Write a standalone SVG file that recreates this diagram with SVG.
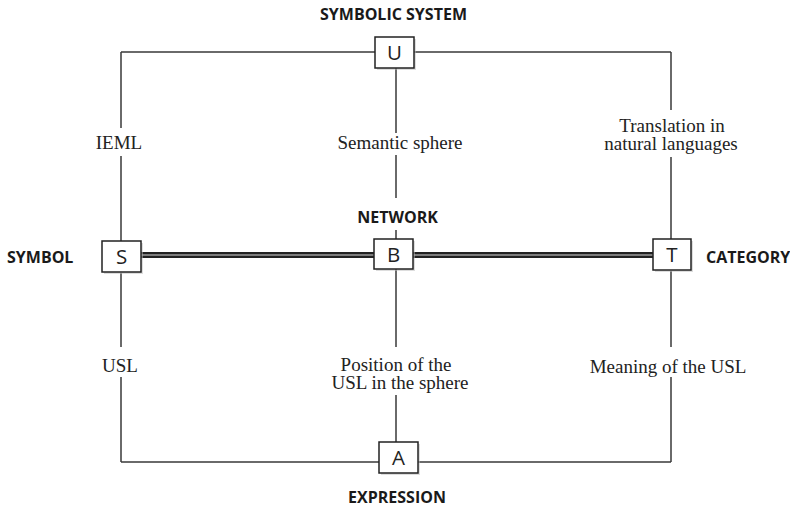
<svg xmlns="http://www.w3.org/2000/svg" width="790" height="510" viewBox="0 0 790 510">
<style>
.ln{stroke:#3a3a3a;stroke-width:1.5;fill:none}
.dbl{stroke:#222;stroke-width:6;fill:none}
.dblc{stroke:#9a9a9a;stroke-width:1.3;fill:none}
.box{fill:#fff;stroke:#222;stroke-width:1.5}
.sh{fill:#bbb;opacity:0.5}
.bl{font-family:"Open Sans","Liberation Sans",sans-serif;font-size:20.5px;fill:#222;text-anchor:middle}
.hd{font-family:"Open Sans",sans-serif;font-weight:700;font-size:16px;fill:#1a1a1a}
.lb{font-family:"Liberation Serif",serif;font-size:19px;fill:#222;text-anchor:middle}
</style>
<rect width="790" height="510" fill="#fff"/>
<g id="connectors">
<path class="ln" d="M121,52H375M414,52H671M121,462H379M418,462H671"/>
<path class="ln" d="M121,52V128M121,156V241M121,273V347M121,377V462"/>
<path class="ln" d="M671,52V110M671,157V239M671,271V347M671,377V462"/>
<path class="ln" d="M396,68V133M396,155V198M396,230V239M396,269V347M396,395V442"/>
<path class="dbl" d="M141,255H374M413,255H653"/>
<path class="dblc" d="M141,255H374M413,255H653"/>
</g>
<g id="U"><rect class="sh" x="377" y="39" width="39" height="31"/><rect class="box" x="375" y="37" width="39" height="31"/><text class="bl" x="394.5" y="60">U</text></g>
<g id="S"><rect class="sh" x="104" y="243" width="39" height="31"/><rect class="box" x="102" y="241" width="39" height="31"/><text class="bl" x="121.5" y="264">S</text></g>
<g id="B"><rect class="sh" x="376" y="241" width="39" height="30"/><rect class="box" x="374" y="239" width="39" height="30"/><text class="bl" x="393.5" y="261.5">B</text></g>
<g id="T"><rect class="sh" x="655" y="241" width="38" height="31"/><rect class="box" x="653" y="239" width="38" height="31"/><text class="bl" x="672" y="262">T</text></g>
<g id="A"><rect class="sh" x="381" y="444" width="39" height="31"/><rect class="box" x="379" y="442" width="39" height="31"/><text class="bl" x="398.5" y="465">A</text></g>
<g id="headings">
<text class="hd" x="393.5" y="20" text-anchor="middle">SYMBOLIC SYSTEM</text>
<text class="hd" x="397.5" y="223" text-anchor="middle">NETWORK</text>
<text class="hd" x="397" y="503" text-anchor="middle">EXPRESSION</text>
<text class="hd" x="7" y="263">SYMBOL</text>
<text class="hd" x="706" y="263">CATEGORY</text>
</g>
<g id="labels">
<text class="lb" x="119" y="149">IEML</text>
<text class="lb" x="400" y="149">Semantic sphere</text>
<text class="lb" x="672" y="132">Translation in</text>
<text class="lb" x="671" y="150">natural languages</text>
<text class="lb" x="120" y="372">USL</text>
<text class="lb" x="396" y="370.5">Position of the</text>
<text class="lb" x="400" y="388.5">USL in the sphere</text>
<text class="lb" x="668" y="373">Meaning of the USL</text>
</g>
</svg>
